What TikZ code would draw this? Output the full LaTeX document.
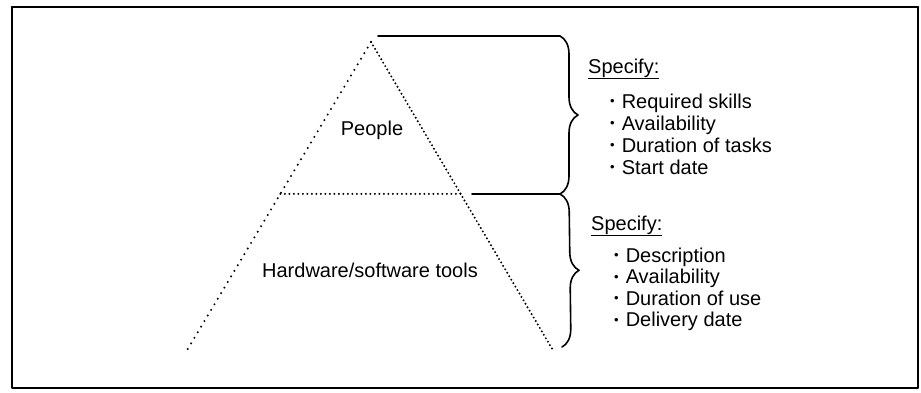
\documentclass[tikz,border=0pt]{standalone}
\usepackage{fontspec}
\setmainfont{Liberation Sans}
\usetikzlibrary{calc,decorations.pathreplacing}

\newcommand{\smallbullet}{\raisebox{0.12em}{\scalebox{0.65}{\textbullet}}\hspace{0.35em}}

\begin{document}
\begin{tikzpicture}[line cap=round,line join=round,x=1pt,y=-1pt,
  lbl/.style={font=\fontsize{20}{22}\selectfont,inner sep=0pt,anchor=base},
  item/.style={font=\fontsize{20}{22}\selectfont,inner sep=0pt,anchor=base west},
  side/.style={line width=2.2pt,dash pattern=on 0pt off 5pt},
  bracket/.style={line width=1.6pt,decorate,decoration={brace,amplitude=18pt}}]
\useasboundingbox (0,0) rectangle (921,392);
% frame
\draw [line width=1.8pt] (12,7) rectangle (918,388);
\draw [line width=2.6pt] (12,7) -- (918,7);
% pyramid
\coordinate (apex) at (371,42);
\coordinate (lbase) at (186,352);
\coordinate (rbase) at (554,352);
\draw [side,dash pattern=on 0pt off 6.5pt] (apex) -- (lbase);
\draw [side,dash pattern=on 0pt off 4pt] (apex) -- (rbase);
\coordinate (dl) at ($(apex)!0.49!(lbase)$);
\coordinate (dr) at ($(apex)!0.49!(rbase)$);
\draw [side,dash pattern=on 0pt off 4.5pt] (dl) -- (dr);
\node [lbl] (people) at (372,135) {People};
\node [lbl] (tools) at (370,277) {Hardware/software tools};
% braces
\coordinate (topend) at (378,36);
\coordinate (btop) at (560,36);
\coordinate (midend) at (472,194);
\coordinate (bmid) at (560,194);
\coordinate (bbot) at (562,347);
\draw [line width=1.6pt] (topend) -- (btop);
\draw [line width=1.6pt] (midend) -- (bmid);
\draw [bracket] (btop) -- (bmid);
\draw [bracket] (bmid) -- (bbot);
% people list
\node [item] (spec1) at (588,73) {\underline{Specify:}};
\foreach \txt [count=\i] in {Required skills,Availability,Duration of tasks,Start date}
  \node [item] (need\i) at (610,{108+22*(\i-1)}) {\smallbullet\txt};
% tools list
\node [item] (spec2) at (591,230) {\underline{Specify:}};
\foreach \txt [count=\i] in {Description,Availability,Duration of use,Delivery date}
  \node [item] (tool\i) at (614,{262+21.5*(\i-1)}) {\smallbullet\txt};
\end{tikzpicture}
\end{document}
